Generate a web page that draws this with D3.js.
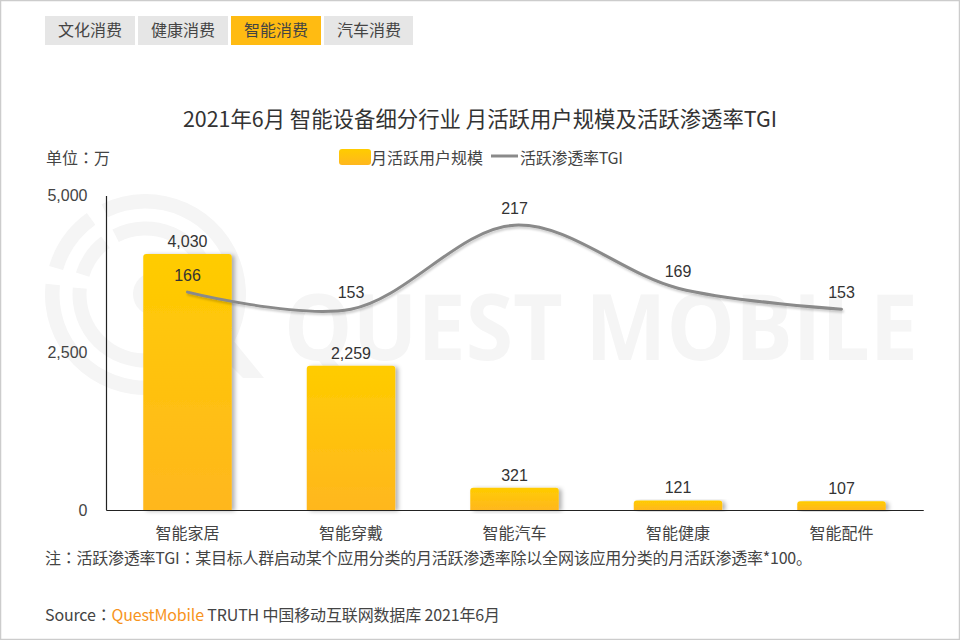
<!DOCTYPE html>
<html>
<head>
<meta charset="utf-8">
<script src="https://cdn.jsdelivr.net/npm/d3@7"></script>
<style>
  html, body { margin: 0; padding: 0; background: #fff; }
  text { font-family: "Noto Sans CJK SC", sans-serif; fill: #444; font-size: 16px; }
  .num { font-family: "Liberation Sans", Arial, sans-serif; fill: #333; }
  .colon { font-family: "Noto Sans CJK TC", sans-serif; }
</style>
</head>
<body>
<svg id="chart" width="960" height="640"></svg>
<script>
// chart data
var tabs = ["文化消费", "健康消费", "智能消费", "汽车消费"];
var activeTab = "智能消费";
var categories = ["智能家居", "智能穿戴", "智能汽车", "智能健康", "智能配件"];
var users = [4030, 2259, 321, 121, 107];
var tgi = [166, 153, 217, 169, 153];
var userTicks = [0, 2500, 5000];

var title = "2021年6月 智能设备细分行业 月活跃用户规模及活跃渗透率TGI";
var unitLabel = "单位：万";
var legendBar = "月活跃用户规模";
var legendLine = "活跃渗透率TGI";
var note = "注：活跃渗透率TGI：某目标人群启动某个应用分类的月活跃渗透率除以全网该应用分类的月活跃渗透率*100。";

var svg = d3.select("#chart");
var defs = svg.append("defs");

var grad = defs.append("linearGradient").attr("id", "barFill")
    .attr("x1", 0).attr("y1", 0).attr("x2", 0).attr("y2", 1);
grad.append("stop").attr("offset", "0%").attr("stop-color", "#ffcc00");
grad.append("stop").attr("offset", "100%").attr("stop-color", "#ffb71e");

var barShadow = defs.append("filter").attr("id", "barShadow")
    .attr("x", "-10%").attr("y", "-10%").attr("width", "125%").attr("height", "125%");
barShadow.append("feDropShadow").attr("dx", 3).attr("dy", 1).attr("stdDeviation", 2)
    .attr("flood-color", "#000").attr("flood-opacity", 0.3);

var lineShadow = defs.append("filter").attr("id", "lineShadow")
    .attr("filterUnits", "userSpaceOnUse")
    .attr("x", 0).attr("y", 0).attr("width", 960).attr("height", 640);
lineShadow.append("feDropShadow").attr("dx", 1).attr("dy", 2).attr("stdDeviation", 1.2)
    .attr("flood-color", "#000").attr("flood-opacity", 0.2);

// the reference centres its full-width colons, the TC font does too
function withColons(sel, str) {
    str.split(/(：)/).forEach(function(part) {
        if (part) sel.append("tspan").attr("class", part === "：" ? "colon" : null).text(part);
    });
    return sel;
}

// page frame
svg.append("rect").attr("x", 0.5).attr("y", 0.5).attr("width", 959).attr("height", 639)
    .attr("fill", "#fff").attr("stroke", "#ccc").attr("stroke-width", 1.5);

// watermark
var mark = svg.append("g").attr("fill", "#f5f5f5");
var arc = d3.arc();
var logo = mark.append("g").attr("transform", "translate(145.5,294.5)");
[[86, 100.5, -0.453, 4.82], [86, 100.5, 5.0, 5.66], [59, 73, -0.47, 4.81], [59, 73, 5.02, 5.63]].forEach(function(a) {
    logo.append("path").attr("d", arc({innerRadius: a[0], outerRadius: a[1], startAngle: a[2], endAngle: a[3]}));
});
mark.append("circle").attr("cx", 155).attr("cy", 294).attr("r", 22);
mark.append("path").attr("d", "M195,330 L215,318 L264,378 L243,378 Z");
mark.append("text").attr("x", 284).attr("y", 360)
    .style("font-family", "'Open Sans', sans-serif").style("font-size", "91px").style("font-weight", 700)
    .style("fill", "#f5f5f5").attr("textLength", 634).attr("lengthAdjust", "spacingAndGlyphs").text("QUEST MOBILE");

// tabs
var tabG = svg.selectAll(".tab").data(tabs).enter().append("g").attr("class", "tab")
    .attr("transform", function(d, i) { return "translate(" + (45 + i * 93) + ",16)"; });
tabG.append("rect").attr("width", function(d, i) { return i === 3 ? 89 : 90; }).attr("height", 29)
    .attr("fill", function(d) { return d === activeTab ? "#ffbb12" : "#e6e6e6"; });
tabG.append("text").attr("x", 45).attr("y", 20).attr("text-anchor", "middle").text(function(d) { return d; });

// title, unit, legend
svg.append("text").attr("x", 480).attr("y", 127).attr("text-anchor", "middle")
    .style("font-size", "21.4px").style("fill", "#333").text(title);
withColons(svg.append("text").attr("x", 46).attr("y", 164), unitLabel);

svg.append("rect").attr("x", 339).attr("y", 149).attr("width", 32).attr("height", 16).attr("rx", 3)
    .attr("fill", "url(#barFill)");
svg.append("text").attr("x", 371).attr("y", 164).text(legendBar);
svg.append("line").attr("x1", 491).attr("x2", 518).attr("y1", 156).attr("y2", 156)
    .attr("stroke", "#8a8a8a").attr("stroke-width", 3);
svg.append("text").attr("x", 520).attr("y", 164).attr("textLength", 103).text(legendLine);

// scales
var x = d3.scaleBand().domain(categories).range([105.75, 923.25]);
var barW = 88.5;
var y = d3.scaleLinear().domain([0, 5000]).range([508, 193]);
var y2 = d3.scaleLinear().domain([0, 240]).range([510, 195]);

// bars
var cx = function(d) { return x(d) + x.bandwidth() / 2; };
var barPath = function(d, i) {
    var l = cx(d) - barW / 2, r = l + barW, t = y(users[i]), b = 510, rad = 3;
    var p = d3.path();
    p.moveTo(l, b);
    p.lineTo(l, t + rad);
    p.quadraticCurveTo(l, t, l + rad, t);
    p.lineTo(r - rad, t);
    p.quadraticCurveTo(r, t, r, t + rad);
    p.lineTo(r, b);
    p.closePath();
    return p.toString();
};
svg.selectAll(".bar").data(categories).enter().append("path").attr("class", "bar")
    .attr("d", barPath).attr("fill", "url(#barFill)").attr("filter", "url(#barShadow)");

// axes
var xAxis = svg.append("g").attr("transform", "translate(0,510)")
    .call(d3.axisBottom(x).tickSize(0).tickPadding(18));
xAxis.select(".domain").attr("stroke", "#222").attr("stroke-width", 1.2);
xAxis.selectAll("text").style("font-size", "16px").style("fill", "#444")
    .style("font-family", "'Noto Sans CJK SC', sans-serif");

var yAxis = svg.append("g").attr("transform", "translate(106.5,0)")
    .call(d3.axisLeft(y).tickValues(userTicks).tickSize(0).tickPadding(19).tickFormat(d3.format(",")));
yAxis.select(".domain").attr("d", "M0,196V510").attr("stroke", "#222").attr("stroke-width", 1.2);
yAxis.selectAll("text").attr("class", "num").attr("dy", "0.45em").style("font-size", "16px")
    .style("font-family", "'Liberation Sans', Arial, sans-serif").style("fill", "#444");

// TGI line
var line = d3.line()
    .x(function(d, i) { return cx(categories[i]); })
    .y(function(d) { return y2(d); })
    .curve(d3.curveCatmullRom.alpha(0.5));
svg.append("path").datum(tgi).attr("d", line).attr("fill", "none")
    .attr("stroke", "#8a8a8a").attr("stroke-width", 3).attr("stroke-linecap", "round")
    .attr("filter", "url(#lineShadow)");

// data labels
svg.selectAll(".barLabel").data(categories).enter().append("text").attr("class", "num barLabel")
    .attr("x", cx).attr("y", function(d, i) { return y(users[i]) - 7; })
    .attr("text-anchor", "middle").text(function(d, i) { return d3.format(",")(users[i]); });
svg.selectAll(".tgiLabel").data(categories).enter().append("text").attr("class", "num tgiLabel")
    .attr("x", cx).attr("y", function(d, i) { return y2(tgi[i]) - 11; })
    .attr("text-anchor", "middle").text(function(d, i) { return tgi[i]; });

// footnotes
withColons(svg.append("text").attr("x", 45).attr("y", 564).attr("textLength", 767), note);
var src = svg.append("text").attr("x", 45).attr("y", 621).attr("textLength", 455);
withColons(src, "Source：");
src.append("tspan").style("fill", "#f7941d").text("QuestMobile");
src.append("tspan").text(" TRUTH 中国移动互联网数据库 2021年6月");
</script>
</body>
</html>
